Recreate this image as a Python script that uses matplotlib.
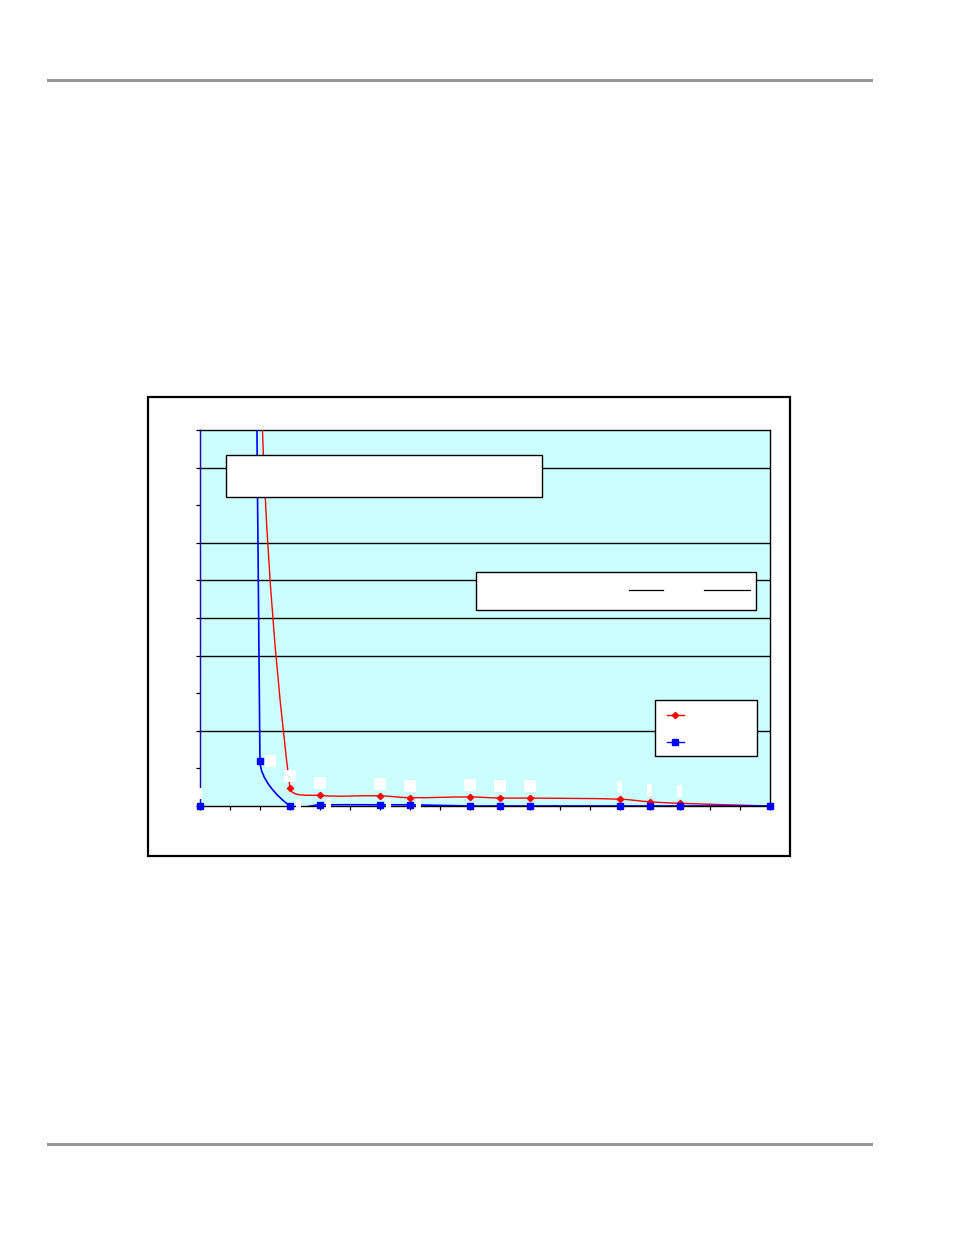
import numpy as np
import matplotlib
matplotlib.use("Agg")
import matplotlib.pyplot as plt
from matplotlib.path import Path
from matplotlib.patches import PathPatch, Rectangle
from matplotlib.lines import Line2D
from matplotlib.transforms import ScaledTranslation

# values (the original carries no visible text)
x_vals = [0, 0.05, 2, 3, 4, 6, 7, 9, 10, 11, 14, 15, 16, 19]
red_vals = [0, 250, 13.0, 0.48, 0.28, 0.27, 0.22, 0.24, 0.21, 0.21, 0.18, 0.11, 0.07, 0.0]
blue_vals = [0, 250, 1.2, 0.0, 0.03, 0.03, 0.03, 0.0, 0.0, 0.0, 0.0, 0.0, 0.0, 0.0]
grid_vals = [2, 4, 5, 6, 7, 9]

# points that carry an (empty, white) data label
red_label_idx = [3, 4, 5, 6, 7, 8, 9, 10, 11, 12]
blue_label_idx = [0, 2, 3, 4, 5, 6]

CYAN = "#CCFFFF"
RED = "#FF0000"
BLUE = "#0000FF"


def smooth_path(ax, xs, ys, tension=1 / 3):
    # Excel-like smoothed line: bezier arms scaled by neighbouring segment lengths
    pts = ax.transData.transform(np.column_stack([xs, ys]))
    n = len(pts)
    verts = [pts[0]]
    codes = [Path.MOVETO]
    for i in range(n - 1):
        p0 = pts[max(i - 1, 0)]
        p1 = pts[i]
        p2 = pts[i + 1]
        p3 = pts[min(i + 2, n - 1)]
        d01 = np.hypot(*(p1 - p0))
        d12 = np.hypot(*(p2 - p1))
        d23 = np.hypot(*(p3 - p2))
        fb = tension * d12 / (d01 + d12) if d01 + d12 > 0 else 0
        fa = tension * d12 / (d12 + d23) if d12 + d23 > 0 else 0
        verts += [p1 + fb * (p2 - p0), p2 - fa * (p3 - p1), p2]
        codes += [Path.CURVE4] * 3
    verts = ax.transData.inverted().transform(np.array(verts))
    return Path(verts, codes)


def empty_label(ax, x, y, dx, dy, w, h):
    ax.add_patch(Rectangle((dx - w / 2, dy - h / 2), w, h,
                           transform=ScaledTranslation(x, y, ax.transData),
                           fc="white", ec="none", zorder=6, clip_on=False))


fig = plt.figure(figsize=(9.54, 12.35), dpi=100)
fig.patch.set_facecolor("white")

# page rules
for yy in (0.9356, 0.0733):
    fig.add_artist(Line2D([0.0503, 0.913], [yy, yy], transform=fig.transFigure,
                          color="#999999", lw=2.2))

# chart frame
fig.add_artist(Rectangle((0.1551, 0.3069), 0.6730, 0.3717, transform=fig.transFigure,
                         fill=False, ec="black", lw=1.6))

ax = fig.add_axes([0.2096, 0.3474, 0.5975, 0.3045])
ax.set_facecolor(CYAN)
ax.set_xlim(0, 19)
ax.set_ylim(0, 10)
ax.set_xticks(range(0, 20))
ax.set_yticks(range(0, 11))
ax.tick_params(direction="out", length=3, width=0.9, color="black",
               labelbottom=False, labelleft=False)
for s in ax.spines.values():
    s.set_color("black")
    s.set_linewidth(1.0)
for g in grid_vals:
    ax.axhline(g, color="black", lw=1.0, zorder=1)

ax.add_patch(PathPatch(smooth_path(ax, x_vals, red_vals), fc="none", ec=RED, lw=1.0, zorder=3))
ax.add_patch(PathPatch(smooth_path(ax, x_vals, blue_vals), fc="none", ec=BLUE, lw=1.2, zorder=4))

xv = np.array(x_vals)
rv = np.array(red_vals)
bv = np.array(blue_vals)
ax.plot(xv[rv <= 10], rv[rv <= 10], ls="none", marker="D", ms=3.2, color=RED,
        zorder=5, clip_on=False)
ax.plot(xv[bv <= 10], bv[bv <= 10], ls="none", marker="s", ms=4.5, color=BLUE,
        zorder=5, clip_on=False)

for i in red_label_idx:
    w = 12 if x_vals[i] < 12 else 5
    empty_label(ax, x_vals[i], red_vals[i], 0, 12, w, 12)
for i in blue_label_idx:
    if x_vals[i] == 0:
        empty_label(ax, x_vals[i], blue_vals[i], 0, 12, 5, 11)
    elif blue_vals[i] > 1:
        empty_label(ax, x_vals[i], blue_vals[i], 11, 0, 11, 12)
    else:
        empty_label(ax, x_vals[i], blue_vals[i], 9, 1, 5, 10)

# blank text boxes
ax.add_patch(Rectangle((0.0456, 0.8218), 0.5544, 0.1117, transform=ax.transAxes,
                       fc="white", ec="black", lw=1.0, zorder=7, clip_on=False))
ax.add_patch(Rectangle((0.4842, 0.5213), 0.4912, 0.1010, transform=ax.transAxes,
                       fc="white", ec="black", lw=1.0, zorder=7, clip_on=False))
for x0, x1 in ((0.7526, 0.8118), (0.8842, 0.9644)):
    ax.add_line(Line2D([x0, x1], [0.5745, 0.5745], transform=ax.transAxes,
                       color="black", lw=0.9, zorder=8))

# legend (entries without text)
ax.add_patch(Rectangle((0.7982, 0.1330), 0.1790, 0.1489, transform=ax.transAxes,
                       fc="white", ec="black", lw=1.0, zorder=7))
ax.add_line(Line2D([0.8193, 0.8342, 0.8491], [0.242, 0.242, 0.242], transform=ax.transAxes,
                   color=RED, lw=1.0, marker="D", ms=3.2, markevery=[1], zorder=8))
ax.add_line(Line2D([0.8193, 0.8342, 0.8491], [0.1702, 0.1702, 0.1702], transform=ax.transAxes,
                   color=BLUE, lw=1.0, marker="s", ms=4.5, markevery=[1], zorder=8))

fig.savefig("out.png", dpi=100, facecolor="white")
